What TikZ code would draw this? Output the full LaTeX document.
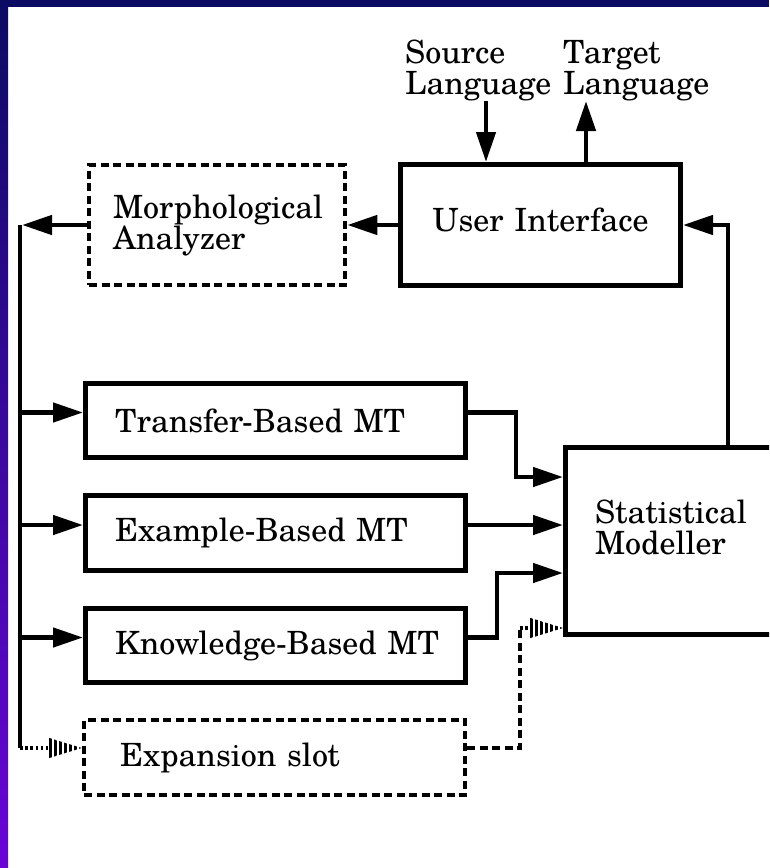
\documentclass[tikz,border=0pt]{standalone}
\usepackage{fontspec}
\setmainfont{texgyreschola-regular.otf}
\usetikzlibrary{arrows.meta,calc}
\definecolor{navy}{RGB}{11,11,100}
\definecolor{midblue}{RGB}{40,30,195}
\definecolor{violet}{RGB}{105,5,215}
\begin{document}
\begin{tikzpicture}[x=1pt,y=-1pt,
  font=\fontsize{32}{31}\selectfont,
  box/.style={draw, line width=5pt, rectangle, inner ysep=0pt, align=left},
  dbox/.style={draw, line width=4.6pt, dash pattern=on 8pt off 4.5pt, rectangle, inner ysep=0pt, align=left},
  arr/.style={line width=4.5pt, -{Triangle[length=30pt,width=19pt]}},
  dline/.style={line width=4.6pt, dash pattern=on 8pt off 4.5pt},
  dotline/.style={line width=3.2pt, dash pattern=on 2.6pt off 2.6pt},
  busline/.style={line width=4.5pt, line cap=square},
  lbl/.style={anchor=north west, inner sep=0pt, align=left},
  hatchtip/.pic={
    \clip (-34,-10.5) -- (0,0) -- (-34,10.5) -- cycle;
    \foreach \k in {0,...,6}{\fill (-33+\k*5,-12) rectangle ++(3,24);}
  }
]
\useasboundingbox (0,0) rectangle (769,868);
\clip (0,0) rectangle (769,868);
\fill[white] (0,0) rectangle (769,868);

% boxes
\node[box, minimum width=280pt, minimum height=121pt, inner xsep=10pt, text width=260pt, align=center] (ui) at (540.5,225) {User Interface\rule[-10pt]{0pt}{10pt}};
\node[dbox, minimum width=256pt, minimum height=120pt, inner xsep=24pt, text width=208pt] (morph) at (217,225) {Morphological\\Analyzer};
\node[box, minimum width=380pt, minimum height=74pt, inner xsep=29.5pt, text width=321pt] (tb) at (275.5,420.5) {\mbox{Transfer-Based MT}};
\node[box, minimum width=380pt, minimum height=75pt, inner xsep=29.5pt, text width=321pt] (eb) at (275.5,533) {\mbox{Example-Based MT}};
\node[box, minimum width=380pt, minimum height=74pt, inner xsep=29.5pt, text width=321pt] (kb) at (275.5,645.5) {\mbox{Knowledge-Based MT}};
\node[dbox, minimum width=381pt, minimum height=75pt, inner xsep=36pt, text width=309pt] (xb) at (274.5,757.5) {\mbox{Expansion slot}};
\node[box, minimum width=260pt, minimum height=187pt, inner xsep=29.5pt, text width=201pt] (sm) at (695.5,541) {Statistical\\Modeller\rule[-27pt]{0pt}{27pt}};

% top labels
\node[lbl] (src) at (405,40) {Source\\Language};
\node[lbl] (tgt) at (563,40) {Target\\Language};

% helper coordinates
\coordinate (sa) at (486,0);
\coordinate (ta) at (586,0);
\coordinate (bus) at (20,0);
\coordinate (busr) at (22,0);
\coordinate (jr) at (728,0);
\coordinate (tin) at ([yshift=8pt]tb.west);
\coordinate (ein) at ([yshift=8pt]eb.west);
\coordinate (kin) at ([yshift=8pt]kb.west);
\coordinate (tout) at ([yshift=8pt]tb.east);
\coordinate (eout) at ([yshift=8pt]eb.east);
\coordinate (kout) at ([yshift=8pt]kb.east);
\coordinate (xin) at ([yshift=9.5pt]xb.west);
\coordinate (xout) at ([yshift=9.5pt]xb.east);
\coordinate (j1) at (516,477);
\coordinate (j2) at (497,573);
\coordinate (j3) at (520,628);

% connectors
\draw[arr] (sa |- src.south) -- (sa |- ui.north);
\draw[arr] (ta |- ui.north) -- (ta |- tgt.south);
\draw[arr] (jr |- sm.north) |- (ui.east);
\draw[arr] (ui.west) -- (morph.east);
\draw[arr] (morph.west) -- (morph.west -| busr);
\draw[busline] (bus |- morph.west) -- (bus |- xin);
\draw[arr] (tin -| bus) -- (tin);
\draw[arr] (ein -| bus) -- (ein);
\draw[arr] (kin -| bus) -- (kin);
\draw[arr] (tout) -| (j1) -- (j1 -| sm.west);
\draw[arr] (eout) -- (eout -| sm.west);
\draw[arr] (kout) -| (j2) -- (j2 -| sm.west);

% expansion connectors
\draw[dotline] (xin -| bus) -- ($(xin)+(-34,0)$);
\pic at (xin) {hatchtip};
\draw[dline] (xout) -| (j3);
\draw[dotline] (j3) -- ($(j3 -| sm.west)+(-34,0)$);
\pic at (j3 -| sm.west) {hatchtip};

% frame
\shade[top color=navy, middle color=midblue, bottom color=violet] (0,0) rectangle (8,868);
\fill[navy] (0,0) rectangle (769,7);
\end{tikzpicture}
\end{document}
